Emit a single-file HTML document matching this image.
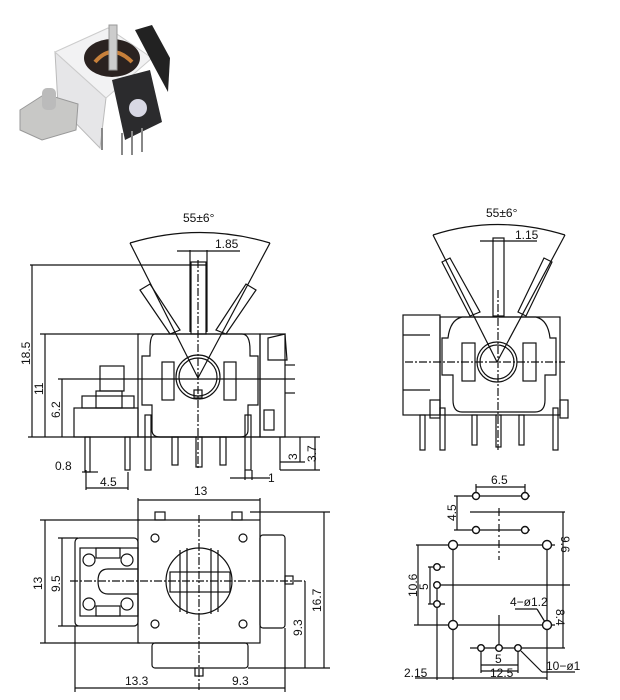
<!DOCTYPE html>
<html><head><meta charset="utf-8"><style>
html,body{margin:0;padding:0;background:#fff;}
svg{display:block;}
text{font-family:"Liberation Sans",sans-serif;font-size:12px;fill:#111;}
</style></head><body>
<svg width="620" height="700" viewBox="0 0 620 700" xmlns="http://www.w3.org/2000/svg">
<!-- photo -->
<g>
<polygon points="55,52 58,105 100,148 106,98" fill="#e6e6e8" stroke="#bbb"/>
<polygon points="55,52 108,28 152,58 106,98" fill="#f2f2f3" stroke="#ccc"/>
<ellipse cx="112" cy="58" rx="28" ry="19" fill="#2a2220"/>
<path d="M95,62 Q112,42 132,62" stroke="#c8803a" stroke-width="4" fill="none"/>
<rect x="109" y="25" width="8" height="45" fill="#ccc" stroke="#999"/>
<polygon points="112,80 150,70 162,122 125,140" fill="#2b2b2d"/>
<polygon points="135,30 152,25 170,58 168,92 155,68" fill="#222"/>
<circle cx="138" cy="108" r="9" fill="#d8d8e4"/>
<polygon points="20,110 45,94 78,104 76,130 42,140 20,130" fill="#c8c8c6" stroke="#999"/>
<rect x="42" y="88" width="14" height="22" rx="5" fill="#bbb"/>
<line x1="102" y1="128" x2="102" y2="150" stroke="#888" stroke-width="2"/>
<line x1="122" y1="133" x2="122" y2="155" stroke="#888" stroke-width="2"/>
<line x1="132" y1="131" x2="132" y2="155" stroke="#888" stroke-width="2"/>
<line x1="142" y1="128" x2="142" y2="152" stroke="#888" stroke-width="2"/>
</g>

<g stroke="#111" stroke-width="1.2" fill="none">
<!-- FRONT VIEW -->
<path d="M130,243 Q200,222 270,243"/>
<line x1="130" y1="243" x2="198" y2="378"/>
<line x1="270" y1="243" x2="198" y2="378"/>
<line x1="190" y1="250" x2="190" y2="332"/><line x1="207" y1="250" x2="207" y2="332"/>
<line x1="177" y1="251" x2="240" y2="251"/>
<line x1="198" y1="260" x2="198" y2="470" stroke-dasharray="8,2,2,2"/>
<rect x="191" y="262" width="15" height="72"/>
<polygon points="140,290 150,284 180,330 170,334"/>
<polygon points="256,290 246,284 216,330 226,334"/>
<line x1="30" y1="265" x2="207" y2="265"/>
<line x1="32" y1="265" x2="32" y2="437"/>
<line x1="40" y1="334" x2="140" y2="334"/>
<line x1="45" y1="334" x2="45" y2="437"/>
<line x1="58" y1="379" x2="295" y2="379"/>
<line x1="62" y1="379" x2="62" y2="437"/>
<line x1="28" y1="437" x2="320" y2="437"/>
<rect x="138" y="334" width="122" height="103"/>
<path d="M155,334 H242 Q250,334 250,350 V356 H258 V405 H248 V430 Q248,437 240,437 H160 Q152,437 152,430 V405 H142 V356 H150 V350 Q150,334 155,334 Z"/>
<rect x="162" y="362" width="12" height="38"/><rect x="224" y="362" width="12" height="38"/>
<circle cx="198" cy="377" r="22"/><circle cx="198" cy="377" r="19"/>
<rect x="194" y="390" width="8" height="8"/>
<rect x="74" y="408" width="64" height="29"/>
<rect x="82" y="396" width="52" height="12"/>
<rect x="96" y="391" width="26" height="17"/>
<rect x="100" y="366" width="24" height="25"/>
<rect x="260" y="334" width="25" height="103"/>
<polygon points="285,334 287,360 268,360 268,338"/>
<line x1="285" y1="365" x2="295" y2="365"/><line x1="285" y1="393" x2="295" y2="393"/>
<rect x="264" y="410" width="10" height="20"/>
<rect x="85" y="437" width="5" height="35"/><rect x="125" y="437" width="5" height="33"/>
<rect x="145" y="415" width="6" height="55"/>
<rect x="172" y="437" width="6" height="28"/><rect x="196" y="437" width="6" height="30"/><rect x="220" y="437" width="6" height="28"/>
<rect x="245" y="415" width="6" height="55"/>
<line x1="280" y1="437" x2="280" y2="470"/>
<line x1="280" y1="462" x2="305" y2="462"/><line x1="280" y1="470" x2="320" y2="470"/>
<line x1="300" y1="437" x2="300" y2="462"/><line x1="315" y1="437" x2="315" y2="470"/>
<line x1="82" y1="472" x2="98" y2="472"/>
<line x1="86" y1="470" x2="86" y2="490"/><line x1="128" y1="472" x2="128" y2="490"/>
<line x1="86" y1="488" x2="128" y2="488"/>
<line x1="230" y1="478" x2="270" y2="478"/><line x1="245" y1="470" x2="245" y2="480"/><line x1="252" y1="470" x2="252" y2="480"/>

<!-- BOTTOM VIEW -->
<line x1="138" y1="500" x2="260" y2="500"/>
<line x1="138" y1="498" x2="138" y2="520"/><line x1="260" y1="498" x2="260" y2="520"/>
<rect x="155" y="512" width="10" height="8"/><rect x="232" y="512" width="10" height="8"/>
<rect x="138" y="520" width="122" height="123"/>
<circle cx="155" cy="538" r="4"/><circle cx="243" cy="538" r="4"/>
<circle cx="155" cy="624" r="4"/><circle cx="243" cy="624" r="4"/>
<circle cx="199" cy="581" r="33"/>
<line x1="180" y1="550" x2="180" y2="612"/><line x1="187" y1="548" x2="187" y2="614"/>
<line x1="211" y1="548" x2="211" y2="614"/><line x1="218" y1="550" x2="218" y2="612"/>
<rect x="170" y="572" width="60" height="20"/>
<line x1="199" y1="515" x2="199" y2="690" stroke-dasharray="8,2,2,2"/>
<line x1="70" y1="581" x2="305" y2="581" stroke-dasharray="8,2,2,2"/>
<rect x="75" y="538" width="63" height="88" rx="4"/>
<rect x="80" y="548" width="58" height="68"/>
<circle cx="89" cy="560" r="6"/><circle cx="127" cy="560" r="6"/>
<circle cx="89" cy="604" r="6"/><circle cx="127" cy="604" r="6"/>
<rect x="96" y="548" width="24" height="10"/><rect x="96" y="606" width="24" height="10"/>
<path d="M138,569 H108 Q98,569 98,581 Q98,594 108,594 H138"/>
<rect x="260" y="535" width="25" height="93" rx="3"/>
<rect x="285" y="576" width="8" height="8"/>
<rect x="152" y="643" width="96" height="25" rx="3"/>
<rect x="195" y="668" width="8" height="8"/>
<line x1="40" y1="520" x2="140" y2="520"/><line x1="45" y1="520" x2="45" y2="643"/>
<line x1="40" y1="643" x2="140" y2="643"/>
<line x1="58" y1="538" x2="78" y2="538"/><line x1="58" y1="626" x2="78" y2="626"/>
<line x1="62" y1="538" x2="62" y2="626"/>
<line x1="250" y1="512" x2="330" y2="512"/><line x1="248" y1="668" x2="330" y2="668"/>
<line x1="324" y1="512" x2="324" y2="668"/>
<line x1="305" y1="581" x2="305" y2="668"/>
<line x1="75" y1="626" x2="75" y2="692"/><line x1="285" y1="628" x2="285" y2="692"/>
<line x1="75" y1="688" x2="285" y2="688"/>

<!-- SIDE VIEW -->
<path d="M433,235 Q497,214 565,235"/>
<line x1="433" y1="235" x2="497" y2="362"/><line x1="565" y1="235" x2="497" y2="362"/>
<rect x="493" y="238" width="11" height="78"/>
<line x1="480" y1="241" x2="537" y2="241"/>
<polygon points="442,262 450,258 480,312 470,316"/>
<polygon points="552,262 544,258 518,312 526,316"/>
<line x1="498" y1="290" x2="498" y2="450" stroke-dasharray="8,2,2,2"/>
<line x1="405" y1="362" x2="565" y2="362" stroke-dasharray="8,2,2,2"/>
<rect x="440" y="317" width="120" height="98"/>
<path d="M462,317 H536 Q548,320 550,338 H556 V375 H545 V400 Q545,412 535,412 H462 Q453,412 453,400 V375 H442 V338 H448 Q450,320 462,317 Z"/>
<rect x="462" y="343" width="13" height="38"/><rect x="523" y="343" width="13" height="38"/>
<circle cx="497" cy="362" r="20"/><circle cx="497" cy="362" r="17"/>
<rect x="403" y="315" width="37" height="100"/>
<line x1="403" y1="335" x2="430" y2="335"/><line x1="403" y1="390" x2="430" y2="390"/>
<rect x="430" y="400" width="10" height="18"/><rect x="560" y="400" width="8" height="18"/>
<rect x="420" y="415" width="5" height="35"/><rect x="440" y="408" width="5" height="42"/>
<rect x="472" y="415" width="5" height="30"/><rect x="496" y="415" width="5" height="32"/><rect x="519" y="415" width="5" height="30"/>
<rect x="553" y="408" width="5" height="42"/>

<!-- FOOTPRINT -->
<line x1="476" y1="487" x2="525" y2="487"/><line x1="476" y1="484" x2="476" y2="500"/><line x1="525" y1="484" x2="525" y2="500"/>
<line x1="454" y1="496" x2="530" y2="496"/><line x1="454" y1="530" x2="530" y2="530"/>
<line x1="457" y1="496" x2="457" y2="530"/>
<line x1="470" y1="512" x2="565" y2="512"/>
<line x1="416" y1="545" x2="555" y2="545"/><line x1="414" y1="625" x2="555" y2="625"/>
<line x1="418" y1="545" x2="418" y2="625"/>
<line x1="428" y1="567" x2="445" y2="567"/><line x1="428" y1="604" x2="445" y2="604"/>
<line x1="430" y1="567" x2="430" y2="604"/>
<line x1="437" y1="585" x2="570" y2="585"/>
<line x1="563" y1="512" x2="563" y2="648"/>
<line x1="470" y1="648" x2="565" y2="648"/>
<line x1="453" y1="545" x2="453" y2="680"/><line x1="547" y1="545" x2="547" y2="680"/>
<line x1="437" y1="585" x2="437" y2="680"/>
<line x1="481" y1="648" x2="481" y2="673"/><line x1="518" y1="648" x2="518" y2="673"/>
<line x1="481" y1="665" x2="518" y2="665"/><line x1="481" y1="671" x2="518" y2="671"/>
<line x1="415" y1="678" x2="547" y2="678"/>
<line x1="499" y1="508" x2="499" y2="560" stroke-dasharray="8,3,2,3"/>
<line x1="499" y1="615" x2="499" y2="648"/>
<line x1="515" y1="609" x2="537" y2="609"/><line x1="537" y1="609" x2="545" y2="622"/>
<line x1="521" y1="651" x2="542" y2="672"/><line x1="542" y1="672" x2="575" y2="672"/>
</g>
<g fill="#fff" stroke="#111" stroke-width="1.4">
<circle cx="476" cy="496" r="3.5"/><circle cx="525" cy="496" r="3.5"/>
<circle cx="476" cy="530" r="3.5"/><circle cx="525" cy="530" r="3.5"/>
<circle cx="453" cy="545" r="4.5"/><circle cx="547" cy="545" r="4.5"/>
<circle cx="453" cy="625" r="4.5"/><circle cx="547" cy="625" r="4.5"/>
<circle cx="437" cy="567" r="3.3"/><circle cx="437" cy="585" r="3.3"/><circle cx="437" cy="604" r="3.3"/>
<circle cx="481" cy="648" r="3.3"/><circle cx="499" cy="648" r="3.3"/><circle cx="518" cy="648" r="3.3"/>
</g>

<!-- TEXT -->
<text x="183" y="222">55±6°</text>
<text x="215" y="248">1.85</text>
<text transform="translate(30,365) rotate(-90)">18.5</text>
<text transform="translate(43,395) rotate(-90)">11</text>
<text transform="translate(60,418) rotate(-90)">6.2</text>
<text x="55" y="470">0.8</text>
<text x="100" y="486">4.5</text>
<text transform="translate(297,460) rotate(-90)">3</text>
<text transform="translate(316,462) rotate(-90)">3.7</text>
<text x="268" y="482">1</text>
<text x="194" y="495">13</text>
<text transform="translate(42,590) rotate(-90)">13</text>
<text transform="translate(60,592) rotate(-90)">9.5</text>
<text transform="translate(321,612) rotate(-90)">16.7</text>
<text transform="translate(302,636) rotate(-90)">9.3</text>
<text x="125" y="685">13.3</text>
<text x="232" y="685">9.3</text>
<text x="486" y="217">55±6°</text>
<text x="515" y="239">1.15</text>
<text x="491" y="484">6.5</text>
<text transform="translate(456,521) rotate(-90)">4.5</text>
<text transform="translate(561,536) rotate(90)">9.6</text>
<text transform="translate(417,597) rotate(-90)">10.6</text>
<text transform="translate(428,590) rotate(-90)">5</text>
<text x="510" y="606" font-size="10">4−ø1.2</text>
<text transform="translate(556,609) rotate(90)">8.4</text>
<text x="495" y="663">5</text>
<text x="490" y="677">12.5</text>
<text x="404" y="677">2.15</text>
<text x="546" y="670">10−ø1</text>
</svg>
</body></html>
